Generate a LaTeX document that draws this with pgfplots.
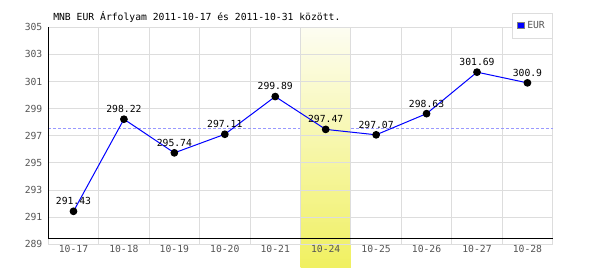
\documentclass[border=0pt]{standalone}
\usepackage{pgfplots}
\pgfplotsset{compat=1.18}
\usepackage{fontspec}
\setmainfont{DejaVu Sans Mono}
\definecolor{gridc}{HTML}{DDDDDD}
\definecolor{tickc}{HTML}{555555}
\definecolor{bandtop}{HTML}{FDFDF2}
\definecolor{bandbot}{HTML}{F0F060}
\definecolor{avgc}{HTML}{9999FF}
\begin{document}
\fontsize{7.3}{8}\selectfont
\begin{tikzpicture}
\useasboundingbox[fill=white] (0,0) rectangle (450pt,202.5pt);
\fill[top color=bandtop, bottom color=bandbot] (225.4pt,1.5pt) rectangle (263.2pt,182.0pt);
\node[anchor=west, black, inner sep=0pt] at (39.75pt,189.6pt) {\fontsize{7.3}{8}\selectfont MNB EUR Árfolyam 2011-10-17 és 2011-10-31 között.};
\begin{axis}[
  at={(36.2pt,19.3pt)}, anchor=south west,
  scale only axis, width=378.3pt, height=162.75pt,
  xmin=-0.5, xmax=9.5, ymin=289, ymax=305,
  xtick={0,...,9},
  xticklabels={10-17,10-18,10-19,10-20,10-21,10-24,10-25,10-26,10-27,10-28},
  minor xtick={0.5,1.5,...,8.5},
  ytick={289,291,...,305},
  xmajorgrids=false, xminorgrids=true, ymajorgrids=true,
  grid style={gridc, line width=0.75pt},
  minor grid style={gridc, line width=0.75pt},
  axis line style={gridc, line width=0.75pt},
  major tick length=0pt, minor tick length=0pt,
  tick label style={tickc, font=\fontsize{7.3}{8}\selectfont},
  /pgf/number format/assume math mode=true,
  yticklabel style={xshift=-1.8pt},
  xticklabel style={yshift=2pt},
  clip=false,
  legend style={at={(1,1)}, anchor=north east, yshift=10.5pt, draw=gridc, fill=white,
    font=\fontsize{7.3}{8}\selectfont, text=tickc, inner xsep=3.5pt, inner ysep=4pt,
    line width=0.75pt},
  legend image code/.code={\fill[blue, draw=gray, line width=0.4pt] (0pt,-2pt) rectangle (5pt,3pt);},
]
\draw[avgc, line width=0.75pt, dash pattern=on 2.25pt off 1.5pt] (axis cs:-0.5,297.54) -- (axis cs:4.5,297.54);
\draw[avgc, line width=0.75pt, dash pattern=on 2.25pt off 1.5pt] (axis cs:5.5,297.54) -- (axis cs:9.5,297.54);
\addplot[blue, line width=0.75pt, mark=*, mark size=2.5pt, mark options={draw=black, fill=black},
  nodes near coords, point meta=explicit symbolic,
  every node near coord/.append style={black, inner sep=0pt, yshift=4.5pt, anchor=south, font=\fontsize{7.3}{8}\selectfont}]
  table[meta=label] {
x y label
0 291.43 291.43
1 298.22 298.22
2 295.74 295.74
3 297.11 297.11
4 299.89 299.89
5 297.47 297.47
6 297.07 297.07
7 298.63 298.63
8 301.69 301.69
9 300.9 300.9
};
\addlegendentry{EUR}
\draw[black, line width=0.75pt] (axis cs:-0.5,289.44) -- (axis cs:9.5,289.44);
\draw[black, line width=0.75pt] (axis cs:-0.5,289.44) -- (axis cs:-0.5,305);
\end{axis}
\end{tikzpicture}
\end{document}
